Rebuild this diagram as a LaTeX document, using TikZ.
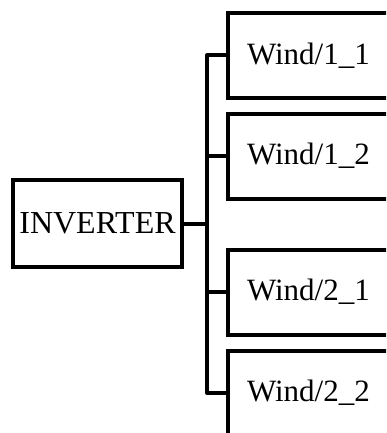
\documentclass[tikz,border=0pt]{standalone}
\usepackage{fontspec}
\setmainfont{Liberation Serif}
\usetikzlibrary{positioning}

\tikzset{
	blockbox/.style={draw=black, line width=4pt, fill=white, font=\fontsize{31}{31}\selectfont},
	windbox/.style={blockbox, minimum height=85pt, text width=170pt, inner xsep=19pt, align=left},
	wire/.style={line width=4pt, line join=round}
}

\begin{document}
\begin{tikzpicture}[x=1pt, y=-1pt]
		%%%%% START %%%%%
		
		\clip (0, 0) rectangle (386, 433);
		\fill[white] (0, 0) rectangle (386, 433);
		
		\node[blockbox, minimum width=169pt, minimum height=87pt, inner sep=0pt, font=\fontsize{32}{32}\selectfont] (inv) at (97.5, 223.5) {INVERTER};
		
		\node[windbox, anchor=west] (w11) at (226, 55.5) {Wind/1\_1};
		\node[windbox, anchor=west] (w12) at (226, 156) {Wind/1\_2};
		\node[windbox, anchor=west] (w21) at (226, 292) {Wind/2\_1};
		\node[windbox, anchor=west] (w22) at (226, 393) {Wind/2\_2};
		
		\coordinate (bus) at (207, 223.5);
		\draw[wire] (inv.east) -- (bus);
		\foreach \w in {w11, w12, w21, w22}
			\draw[wire] (bus) |- (\w.west);
		
		%%%%% END %%%%%
	\end{tikzpicture}
\end{document}
